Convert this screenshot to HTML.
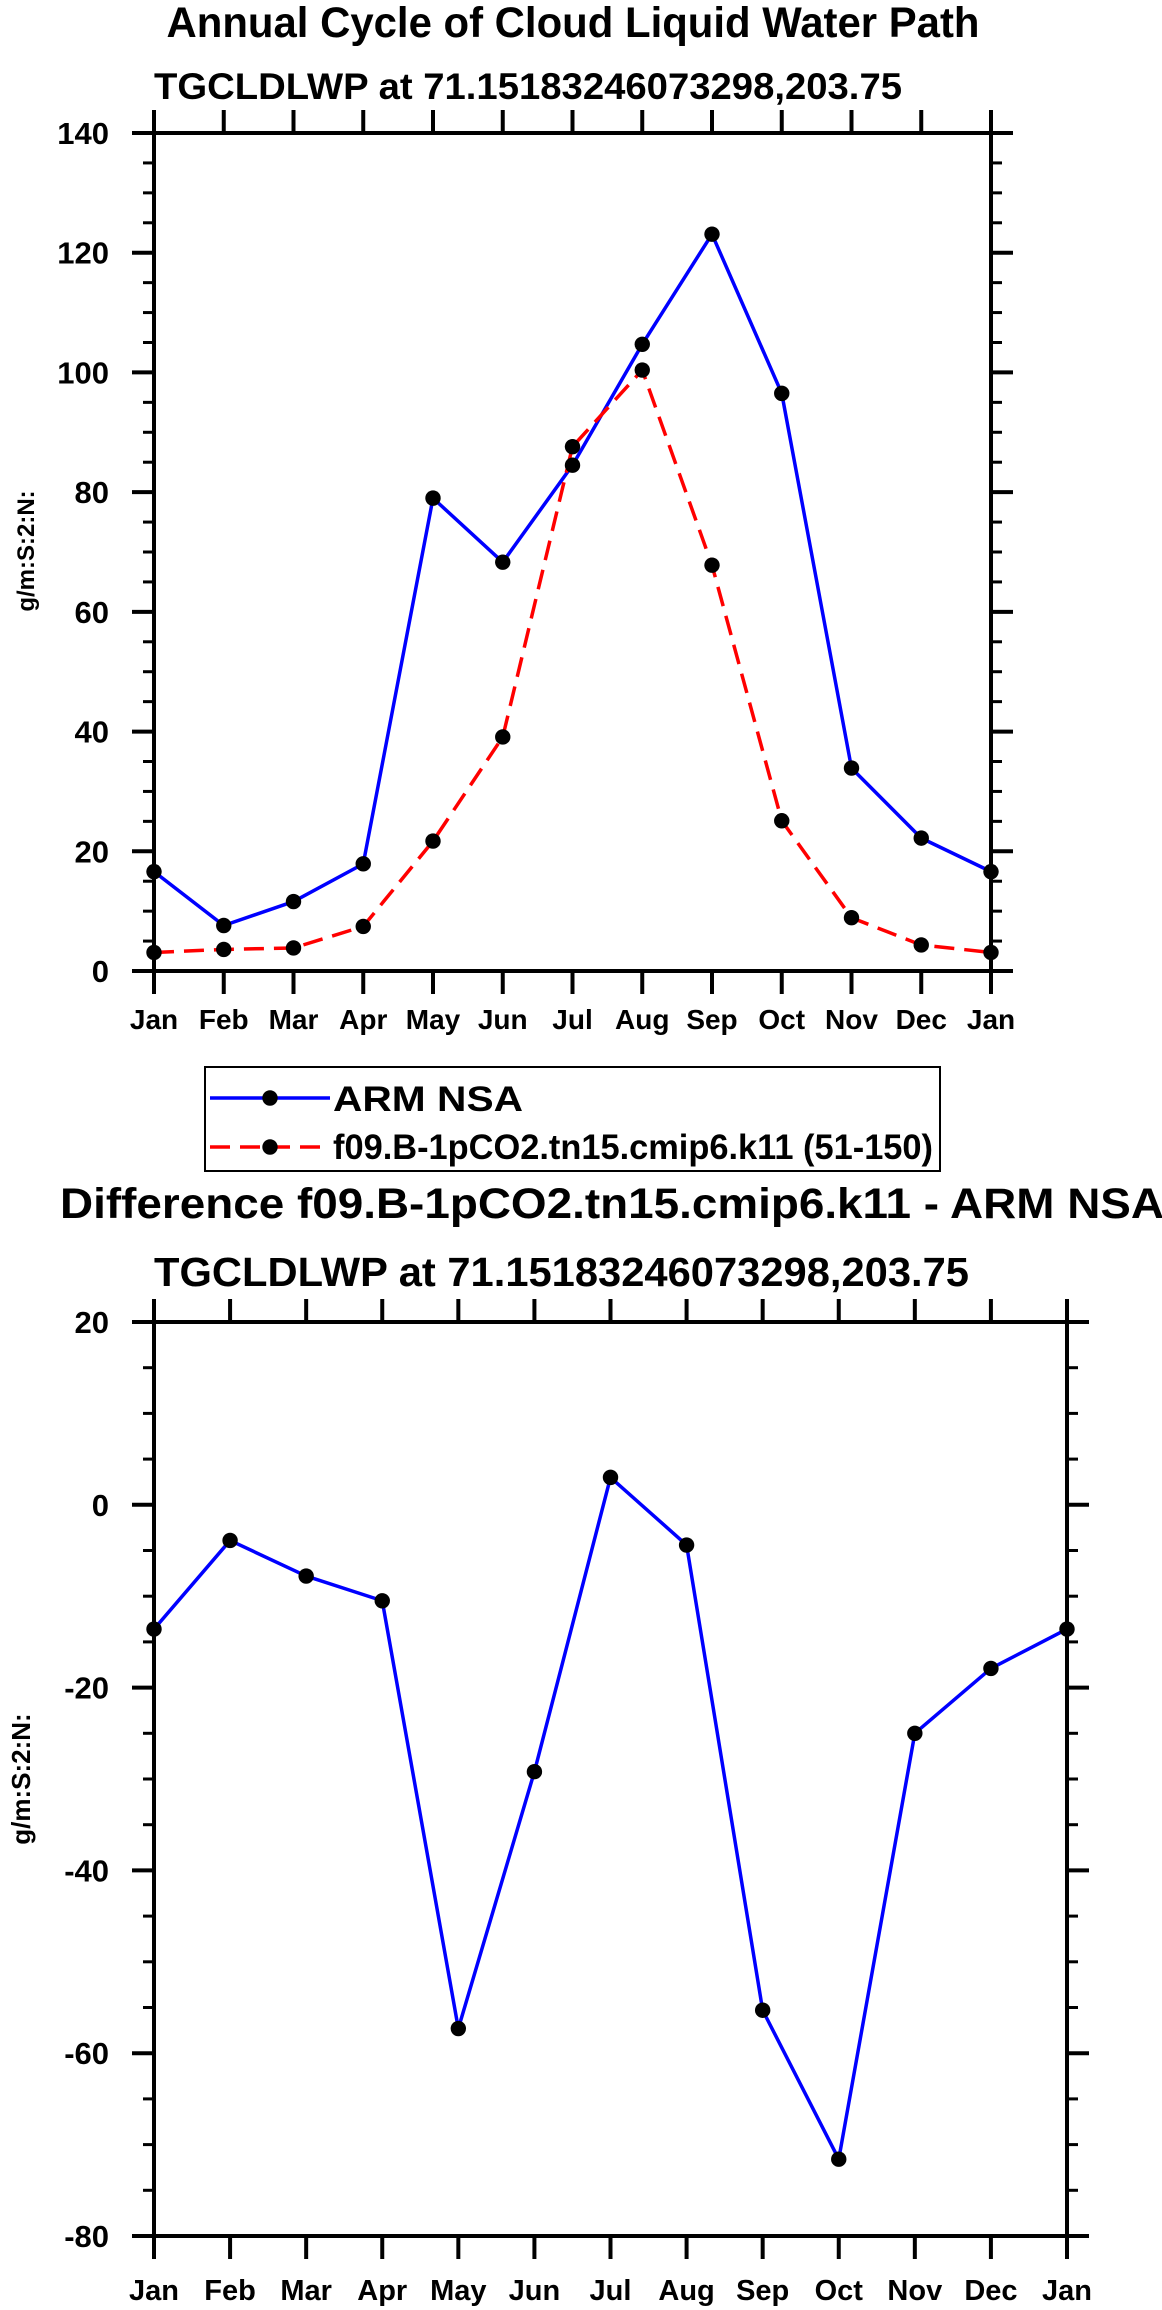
<!DOCTYPE html>
<html><head><meta charset="utf-8"><style>
html,body{margin:0;padding:0;background:#fff;}
svg{display:block;font-family:"Liberation Sans",Arial,sans-serif;font-weight:bold;}
</style></head><body>
<svg id="svg" width="1162" height="2310" viewBox="0 0 1162 2310" xmlns="http://www.w3.org/2000/svg">
<text x="573" y="37" font-size="43" text-anchor="middle" textLength="813" lengthAdjust="spacingAndGlyphs">Annual Cycle of Cloud Liquid Water Path</text>
<text x="154" y="99" font-size="37" textLength="748" lengthAdjust="spacingAndGlyphs">TGCLDLWP at 71.15183246073298,203.75</text>
<text transform="translate(34,551) rotate(-90)" font-size="24" text-anchor="middle">g/m:S:2:N:</text>
<g id="top"></g>
<g>
<rect x="205" y="1067" width="735" height="104" fill="#fff" stroke="#000" stroke-width="2"/>
<g>
<line x1="210" y1="1098" x2="330" y2="1098" stroke="#0000ff" stroke-width="3.5"/>
<circle cx="270" cy="1098" r="7.7" fill="#000"/>
<text x="333" y="1111" font-size="35" textLength="190" lengthAdjust="spacingAndGlyphs">ARM NSA</text>
</g>
<g>
<line x1="210" y1="1147" x2="330" y2="1147" stroke="#ff0000" stroke-width="3.5" stroke-dasharray="20,10"/>
<circle cx="270" cy="1147" r="7.7" fill="#000"/>
<text x="333" y="1159" font-size="35" textLength="600" lengthAdjust="spacingAndGlyphs">f09.B-1pCO2.tn15.cmip6.k11 (51-150)</text>
</g>
</g>
<text x="612" y="1218" font-size="43" text-anchor="middle" textLength="1104" lengthAdjust="spacingAndGlyphs">Difference f09.B-1pCO2.tn15.cmip6.k11 - ARM NSA</text>
<text x="154" y="1286" font-size="41" textLength="815" lengthAdjust="spacingAndGlyphs">TGCLDLWP at 71.15183246073298,203.75</text>
<text transform="translate(30,1779) rotate(-90)" font-size="26" text-anchor="middle">g/m:S:2:N:</text>
<g id="bot"></g>
</svg>
<script>
const months = ["Jan","Feb","Mar","Apr","May","Jun","Jul","Aug","Sep","Oct","Nov","Dec","Jan"];
const armValues = [16.6,7.6,11.6,17.9,79.0,68.3,84.5,104.7,123.1,96.5,33.9,22.2,16.6];
const modelValues = [3.1,3.6,3.85,7.45,21.7,39.1,87.6,100.4,67.8,25.1,8.9,4.35,3.1];
const diffValues = [-13.6,-3.9,-7.8,-10.5,-57.3,-29.2,3.0,-4.4,-55.3,-71.6,-25.0,-17.9,-13.6];
const topTicks = [0,20,40,60,80,100,120,140];
const botTicks = [-80,-60,-40,-20,0,20];

const NS = "http://www.w3.org/2000/svg";
function mk(parent, tag, attrs){const e=document.createElementNS(NS,tag);for(const k in attrs)e.setAttribute(k,attrs[k]);parent.appendChild(e);return e;}

function chart(g, box, ymin, ymax, ticks, minorStep, series, yfs, xfs, xLabY){
  const xs = i => box.l + (box.r-box.l)*i/(months.length-1);
  const ys = v => box.b - (box.b-box.t)*(v-ymin)/(ymax-ymin);
  for(let v=ymin; v<=ymax+1e-9; v+=minorStep){
    const y=ys(v);
    const a=mk(g,"line",{x1:box.l-11,y1:y,x2:box.l,y2:y,stroke:"#000","stroke-width":3});
    
    
    const b=mk(g,"line",{x1:box.r,y1:y,x2:box.r+11,y2:y,stroke:"#000","stroke-width":3});
    
    
  }
  ticks.forEach(v=>{
    const y=ys(v);
    const a=mk(g,"line",{x1:box.l-22,y1:y,x2:box.l,y2:y,stroke:"#000","stroke-width":4});
    
    
    const b=mk(g,"line",{x1:box.r,y1:y,x2:box.r+22,y2:y,stroke:"#000","stroke-width":4});
    
    
    const t=mk(g,"text",{x:box.l-45,y:y+11,"font-size":yfs,"text-anchor":"end"});
    t.textContent=v;
    
    
  });
  months.forEach((m,i)=>{
    const x=xs(i);
    const a=mk(g,"line",{x1:x,y1:box.b,x2:x,y2:box.b+23,stroke:"#000","stroke-width":4});
    
    
    const b=mk(g,"line",{x1:x,y1:box.t-23,x2:x,y2:box.t,stroke:"#000","stroke-width":4});
    
    
    const t=mk(g,"text",{x:x,y:xLabY,"font-size":xfs,"text-anchor":"middle"});
    t.textContent=m;
    
    
  });
  const frame=mk(g,"rect",{x:box.l,y:box.t,width:box.r-box.l,height:box.b-box.t,fill:"none",stroke:"#000","stroke-width":4});
  
  
  series.forEach(s=>{
    const pts=s.vals.map((v,i)=>xs(i)+","+ys(v)).join(" ");
    const attrs={points:pts,fill:"none",stroke:s.color,"stroke-width":3.5,"stroke-linejoin":"round"};
    if(s.dash) attrs["stroke-dasharray"]=s.dash;
    const pl=mk(g,"polyline",attrs);
    
    
  });
  series.forEach(s=>{
    s.vals.forEach((v,i)=>{
      const c=mk(g,"circle",{cx:xs(i),cy:ys(v),r:7.7,fill:"#000"});
      
      
    });
  });
}
chart(document.getElementById("top"),{l:154,r:991,t:133,b:971},0,140,topTicks,5,
  [{vals:armValues,color:"#0000ff",name:"arm-nsa"},{vals:modelValues,color:"#ff0000",dash:"20,10",name:"model"}],31,28,1029);
chart(document.getElementById("bot"),{l:154,r:1067,t:1322,b:2236},-80,20,botTicks,5,
  [{vals:diffValues,color:"#0000ff",name:"difference"}],31,29,2300);
</script>
</body></html>
